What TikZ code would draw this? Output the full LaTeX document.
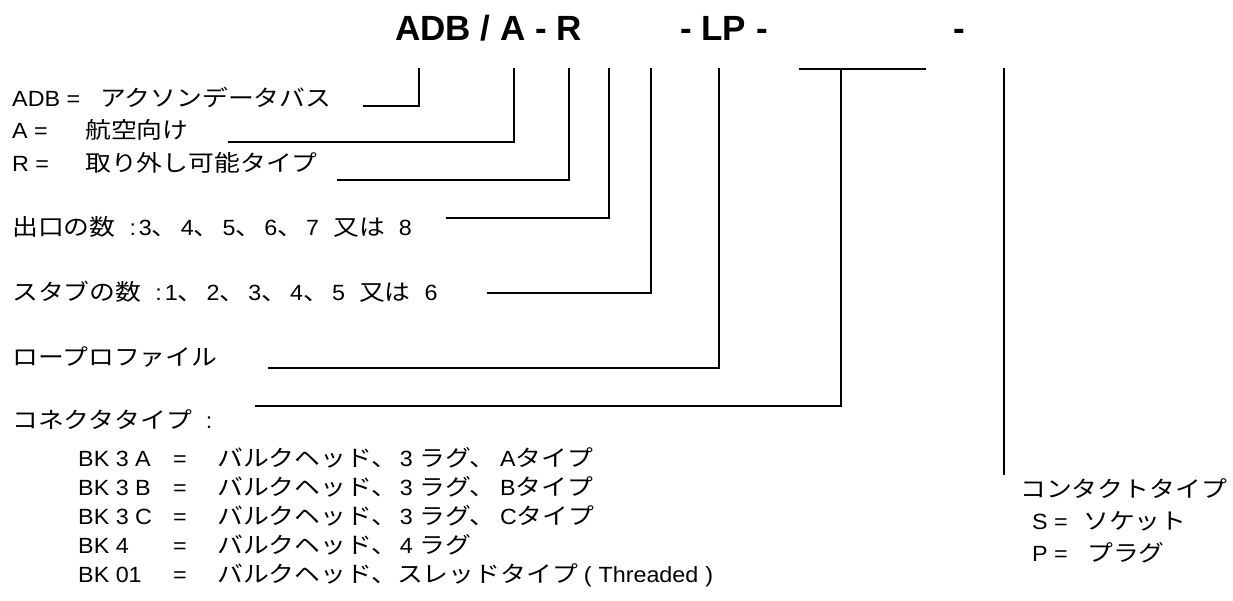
\documentclass[tikz,border=0pt]{standalone}
\usepackage{fontspec}
\setmainfont{Liberation Sans}[FakeStretch=1.06]
\newfontfamily\jpf{Noto Sans CJK JP}[FakeStretch=1.14,Scale=1.03]
\newfontfamily\ttlf{Liberation Sans}
\newcommand\jp[1]{{\jpf #1}}
\newcommand\gap[1]{\hspace*{#1pt}}
\begin{document}
\begin{tikzpicture}[x=1pt,y=-1pt,
  lbl/.style={anchor=base west, inner sep=0pt, font=\fontsize{22}{26}\selectfont},
  ttl/.style={anchor=base west, inner sep=0pt, font=\ttlf\bfseries\fontsize{35}{40}\selectfont},
  lead/.style={line width=1.7pt}]
\useasboundingbox (0,0) rectangle (1233,601);
% title
\node[ttl] (tA) at (395,41) {ADB / A - R};
\node[ttl] (tL) at (680,41) {- LP -};
\node[ttl] (tC) at (953,41) {-};
% left rows
\node[lbl] (k1) at (12,107) {ADB =};
\node[lbl] (v1) at (100,107) {\jp{アクソンデータバス}};
\node[lbl] (k2) at (12,139) {A =};
\node[lbl] (v2) at (85,139) {\jp{航空向け}};
\node[lbl] (k3) at (12,172) {R =};
\node[lbl] (v3) at (85,172) {\jp{取り外し可能タイプ}};
\node[lbl] (k4) at (12,236) {\jp{出口の数}\gap{14}:\gap{3}3\jp{、}\gap{3}4\jp{、}\gap{3}5\jp{、}\gap{3}6\jp{、}\gap{3}7\gap{14}\jp{又は}\gap{14}8};
\node[lbl] (k5) at (12,301) {\jp{スタブの数}\gap{14}:\gap{3}1\jp{、}\gap{3}2\jp{、}\gap{3}3\jp{、}\gap{3}4\jp{、}\gap{3}5\gap{14}\jp{又は}\gap{14}6};
\node[lbl] (k6) at (12,365) {\jp{ロープロファイル}};
\node[lbl] (k7) at (12,428) {\jp{コネクタタイプ}\gap{14}:};
% connector types
\node[lbl] (b1) at (78,466) {BK 3 A};
\node[lbl] (e1) at (173,466) {=};
\node[lbl] (m1) at (217,466) {\jp{バルクヘッド、}\gap{3}3 \jp{ラグ、}\gap{5}A\jp{タイプ}};
\node[lbl] (b2) at (78,495) {BK 3 B};
\node[lbl] (e2) at (173,495) {=};
\node[lbl] (m2) at (217,495) {\jp{バルクヘッド、}\gap{3}3 \jp{ラグ、}\gap{5}B\jp{タイプ}};
\node[lbl] (b3) at (78,524) {BK 3 C};
\node[lbl] (e3) at (173,524) {=};
\node[lbl] (m3) at (217,524) {\jp{バルクヘッド、}\gap{3}3 \jp{ラグ、}\gap{5}C\jp{タイプ}};
\node[lbl] (b4) at (78,553) {BK 4};
\node[lbl] (e4) at (173,553) {=};
\node[lbl] (m4) at (217,553) {\jp{バルクヘッド、}\gap{3}4 \jp{ラグ}};
\node[lbl] (b5) at (78,582) {BK 01};
\node[lbl] (e5) at (173,582) {=};
\node[lbl] (m5) at (217,582) {\jp{バルクヘッド、スレッドタイプ}\gap{6}(\gap{7}Threaded\gap{7})};
% contact type
\node[lbl] (c0) at (1020,497) {\jp{コンタクトタイプ}};
\node[lbl] (c1) at (1032,529) {S =};
\node[lbl] (c1v) at (1083,529) {\jp{ソケット}};
\node[lbl] (c2) at (1032,561) {P =};
\node[lbl] (c2v) at (1087,561) {\jp{プラグ}};
% leader coordinates
\coordinate (s1) at (363,106); \coordinate (p1) at (419,68);
\coordinate (s2) at (228,142); \coordinate (p2) at (514,68);
\coordinate (s3) at (337,180); \coordinate (p3) at (569,68);
\coordinate (s4) at (446,218); \coordinate (p4) at (609,68);
\coordinate (s5) at (487,293); \coordinate (p5) at (651,68);
\coordinate (s6) at (268,368); \coordinate (p6) at (719,68);
\coordinate (s7) at (255,406); \coordinate (p7) at (841,69);
\coordinate (tl) at (799,69); \coordinate (tr) at (926,69);
\coordinate (q1) at (1004,68); \coordinate (q2) at (1004,475);
\draw[lead] (s1) -| (p1);
\draw[lead] (s2) -| (p2);
\draw[lead] (s3) -| (p3);
\draw[lead] (s4) -| (p4);
\draw[lead] (s5) -| (p5);
\draw[lead] (s6) -| (p6);
\draw[lead] (s7) -| (p7);
\draw[lead] (tl) -- (tr);
\draw[lead] (q1) -- (q2);
\end{tikzpicture}
\end{document}
